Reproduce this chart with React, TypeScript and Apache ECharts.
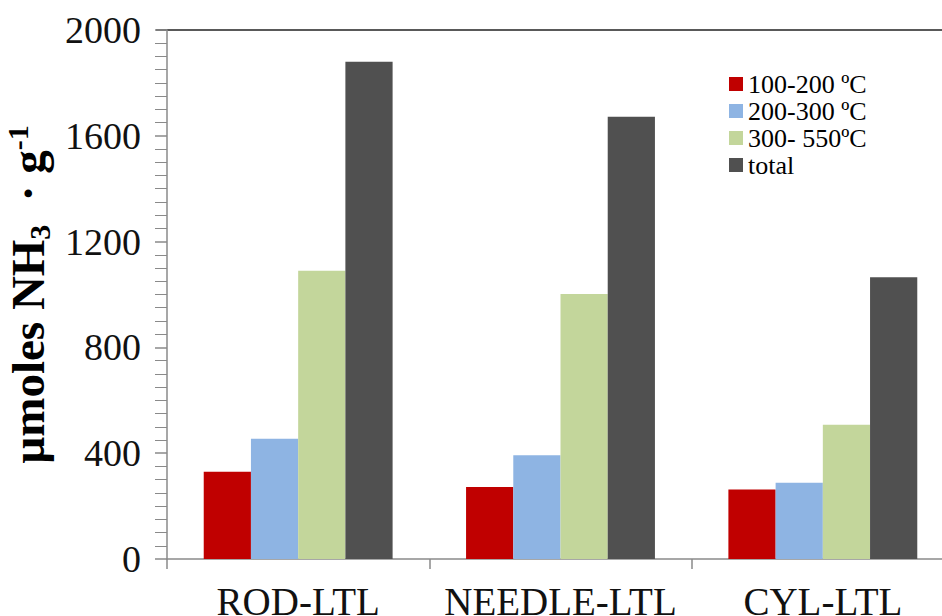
import React, { useEffect, useRef } from "react";
import * as echarts from "echarts";

const categories = ["ROD-LTL", "NEEDLE-LTL", "CYL-LTL"];
const seriesNames = ["100-200 ºC", "200-300 ºC", "300- 550ºC", "total"];
const s100_200 = [330, 272, 263];
const s200_300 = [455, 392, 288];
const s300_550 = [1090, 1002, 508];
const sTotal = [1880, 1672, 1065];
const colors = ["#C00000", "#8EB4E3", "#C3D69B", "#505050"];

export default function App() {
  const ref = useRef<HTMLDivElement>(null);
  useEffect(() => {
    if (!ref.current) return;
    const chart = echarts.init(ref.current, null, { renderer: "svg" });
    const font = "'Times New Roman', 'Liberation Serif', serif";
    const data = [s100_200, s200_300, s300_550, sTotal];
    chart.setOption({
      animation: false,
      backgroundColor: "#fff",
      textStyle: { fontFamily: font },
      grid: { left: 167, top: 30, width: 787, bottom: 57, containLabel: false, outerBoundsMode: "none" },
      legend: {
        orient: "vertical",
        left: 724,
        top: 66,
        itemWidth: 14,
        itemHeight: 14,
        itemGap: 1,
        icon: "rect",
        formatter: "{t|{name}}",
        textStyle: {
          fontFamily: font,
          fontSize: 26,
          color: "#000",
          rich: { t: { fontFamily: font, fontSize: 26, color: "#000", lineHeight: 26 } },
        },
        data: seriesNames,
      },
      xAxis: {
        type: "category",
        data: categories,
        axisLine: { lineStyle: { color: "#8a8a8a", width: 1.5 } },
        axisTick: { show: true, length: 10, lineStyle: { color: "#8a8a8a", width: 1.5 } },
        axisLabel: { fontFamily: font, fontSize: 39, color: "#111", margin: 23, interval: 0 },
      },
      yAxis: {
        type: "value",
        min: 0,
        max: 2000,
        interval: 400,
        axisLine: { show: true, lineStyle: { color: "#8a8a8a", width: 1.5 } },
        axisTick: { show: true, length: 12, lineStyle: { color: "#8a8a8a", width: 1.5 } },
        minorTick: { show: true, splitNumber: 8, length: 12, lineStyle: { color: "#8a8a8a", width: 1 } },
        splitLine: { show: false },
        axisLabel: { fontFamily: font, fontSize: 38, color: "#111", margin: 26, formatter: (v: number) => String(v) },
        name: "{b|µmoles NH}{sub|3}{b|  · g}{sup|-1}",
        nameLocation: "middle",
        nameRotate: 90,
        nameGap: 104,
        nameTextStyle: {
          fontFamily: font,
          fontWeight: "bold",
          rich: {
            b: { fontFamily: font, fontSize: 47, fontWeight: "bold", color: "#000", lineHeight: 52, verticalAlign: "middle" },
            sub: { fontFamily: font, fontSize: 30, fontWeight: "bold", color: "#000", lineHeight: 52, verticalAlign: "bottom", padding: [15, 0, 0, 0] },
            sup: { fontFamily: font, fontSize: 30, fontWeight: "bold", color: "#000", lineHeight: 52, verticalAlign: "top", padding: [0, 0, 13, 0] },
          },
        },
      },
      graphic: [
        { type: "line", shape: { x1: 156, y1: 30, x2: 942, y2: 30 }, style: { stroke: "#222", lineWidth: 1.5 } },
      ],
      series: seriesNames.map((name, i) => ({
        name,
        type: "bar",
        data: data[i],
        barGap: "0%",
        barCategoryGap: "28%",
        itemStyle: { color: colors[i] },
      })),
    });
    return () => chart.dispose();
  }, []);
  return (
    <div
      ref={ref}
      style={{ position: "absolute", left: 0, top: 0, width: 942, height: 616 }}
    />
  );
}
